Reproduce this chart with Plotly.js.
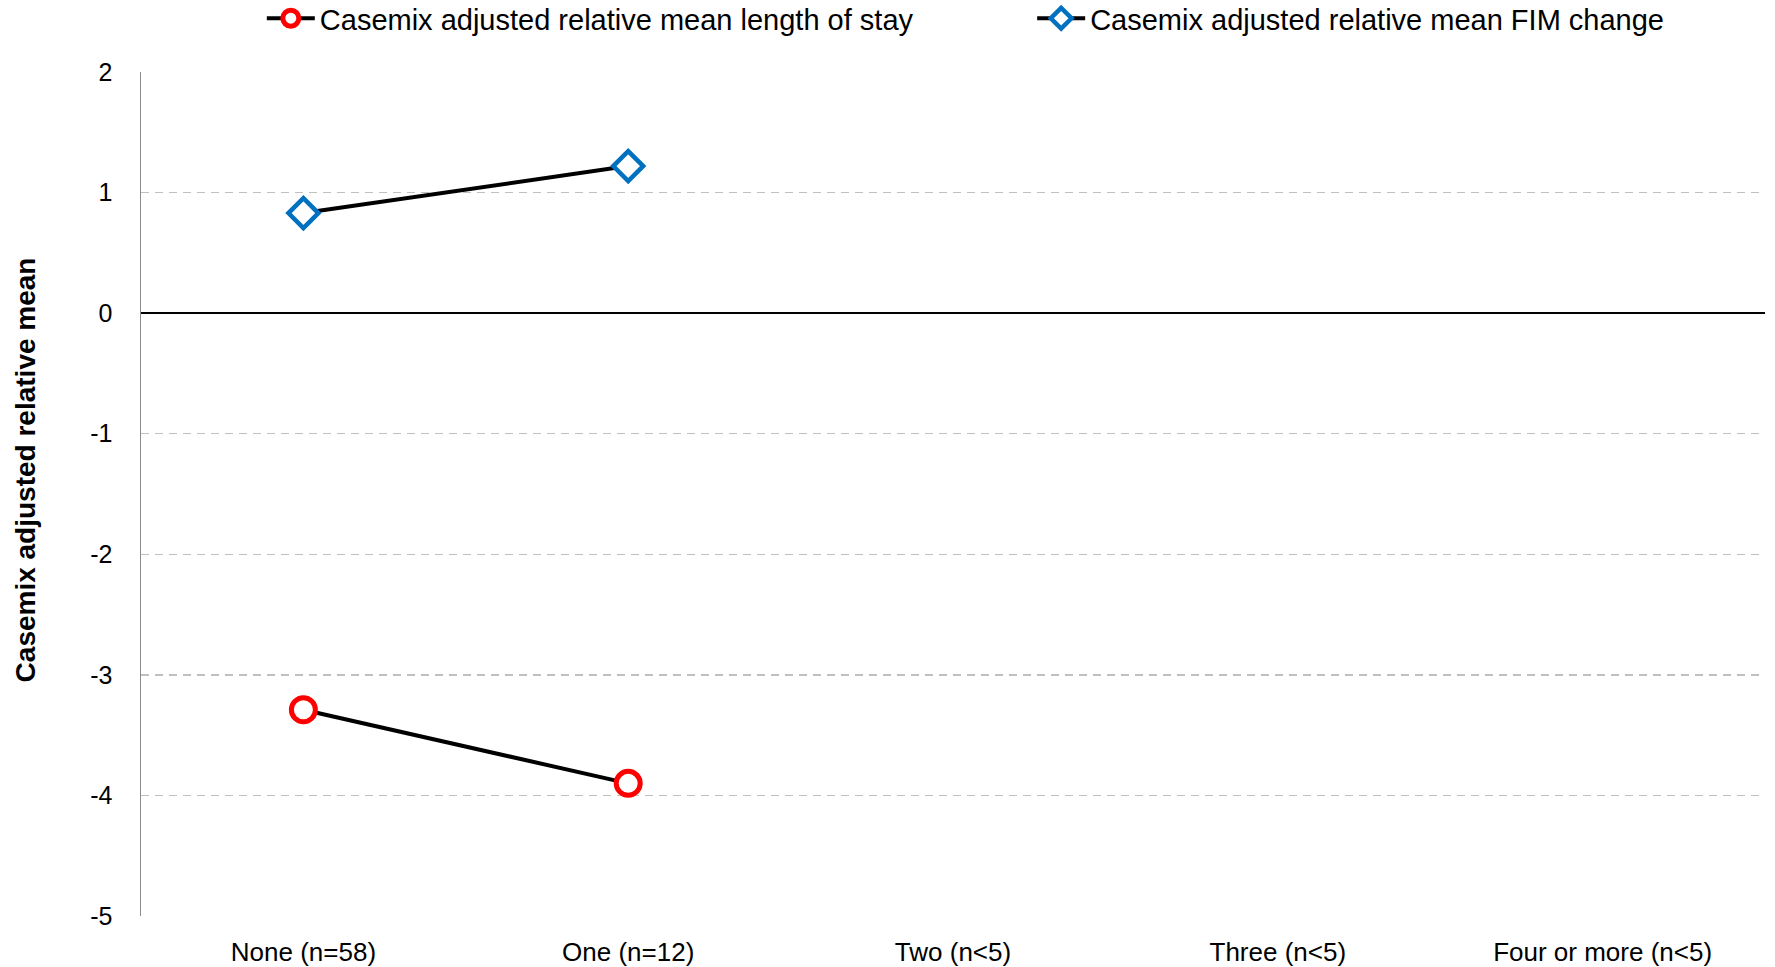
<!DOCTYPE html>
<html>
<head>
<meta charset="utf-8">
<script src="https://cdn.plot.ly/plotly-3.0.1.min.js"></script>
<style>html,body{margin:0;padding:0;background:#fff;}#chart{width:1775px;height:967px;}</style>
</head>
<body>
<div id="chart"></div>
<script>
const categories = ["None (n=58)", "One (n=12)", "Two (n<5)", "Three (n<5)", "Four or more (n<5)"];
const losCategories = ["None (n=58)", "One (n=12)"];
const losValues = [-3.29, -3.90];
const fimCategories = ["None (n=58)", "One (n=12)"];
const fimValues = [0.83, 1.22];
const yTicks = [-5, -4, -3, -2, -1, 0, 1, 2];
const yTitle = 'Casemix adjusted relative mean';

const fontFam = "'Liberation Sans', Arial, sans-serif";

const traces = [
  {
    x: losCategories, y: losValues, type: 'scatter', mode: 'lines+markers',
    name: 'Casemix adjusted relative mean length of stay', legend: 'legend',
    line: {color: '#000000', width: 4},
    marker: {symbol: 'circle', size: 24, color: '#ffffff', line: {color: '#ff0000', width: 5}}
  },
  {
    x: fimCategories, y: fimValues, type: 'scatter', mode: 'lines+markers',
    name: 'Casemix adjusted relative mean FIM change', legend: 'legend2',
    line: {color: '#000000', width: 4},
    marker: {symbol: 'diamond', size: 23, color: '#ffffff', line: {color: '#0070c0', width: 4.5}}
  }
];

const legendFont = {family: fontFam, size: 29, color: '#000000'};

const layout = {
  width: 1775, height: 967,
  margin: {l: 141, r: 10, t: 72, b: 51},
  paper_bgcolor: '#ffffff', plot_bgcolor: '#ffffff',
  font: {family: fontFam, size: 25, color: '#000000'},
  showlegend: true,
  legend: {orientation: 'h', xref: 'container', x: 0.1475, xanchor: 'left',
           yref: 'container', y: 0.981, yanchor: 'middle', bgcolor: 'rgba(0,0,0,0)',
           itemwidth: 48, font: legendFont},
  legend2: {orientation: 'h', xref: 'container', x: 0.5815, xanchor: 'left',
           yref: 'container', y: 0.981, yanchor: 'middle', bgcolor: 'rgba(0,0,0,0)',
           itemwidth: 48, font: legendFont},
  xaxis: {
    type: 'category', categoryorder: 'array', categoryarray: categories,
    tickvals: categories, ticktext: categories,
    range: [-0.5, 4.5], showgrid: false, zeroline: false, showline: false,
    ticks: '', ticklabelstandoff: 18, automargin: false,
    tickfont: {family: fontFam, size: 26, color: '#000000'}
  },
  yaxis: {
    range: [-5, 2], tickvals: yTicks, ticktext: yTicks.map(String),
    showgrid: true, gridcolor: '#c0c0c0', griddash: '8px,6px', gridwidth: 1.5,
    zeroline: true, zerolinecolor: '#000000', zerolinewidth: 1.5,
    showline: true, linecolor: '#8c8c8c', linewidth: 1.5,
    ticks: '', ticklabelstandoff: 22, automargin: false,
    tickfont: {family: fontFam, size: 25, color: '#000000'}
  },
  annotations: [{
    text: '<b>' + yTitle + '</b>', textangle: -90, showarrow: false,
    xref: 'paper', yref: 'paper', x: -0.0714, y: 0.528, xanchor: 'center', yanchor: 'middle',
    font: {family: fontFam, size: 28, color: '#000000'}
  }]
};

Plotly.newPlot('chart', traces, layout, {displayModeBar: false, staticPlot: true});
</script>
</body>
</html>
